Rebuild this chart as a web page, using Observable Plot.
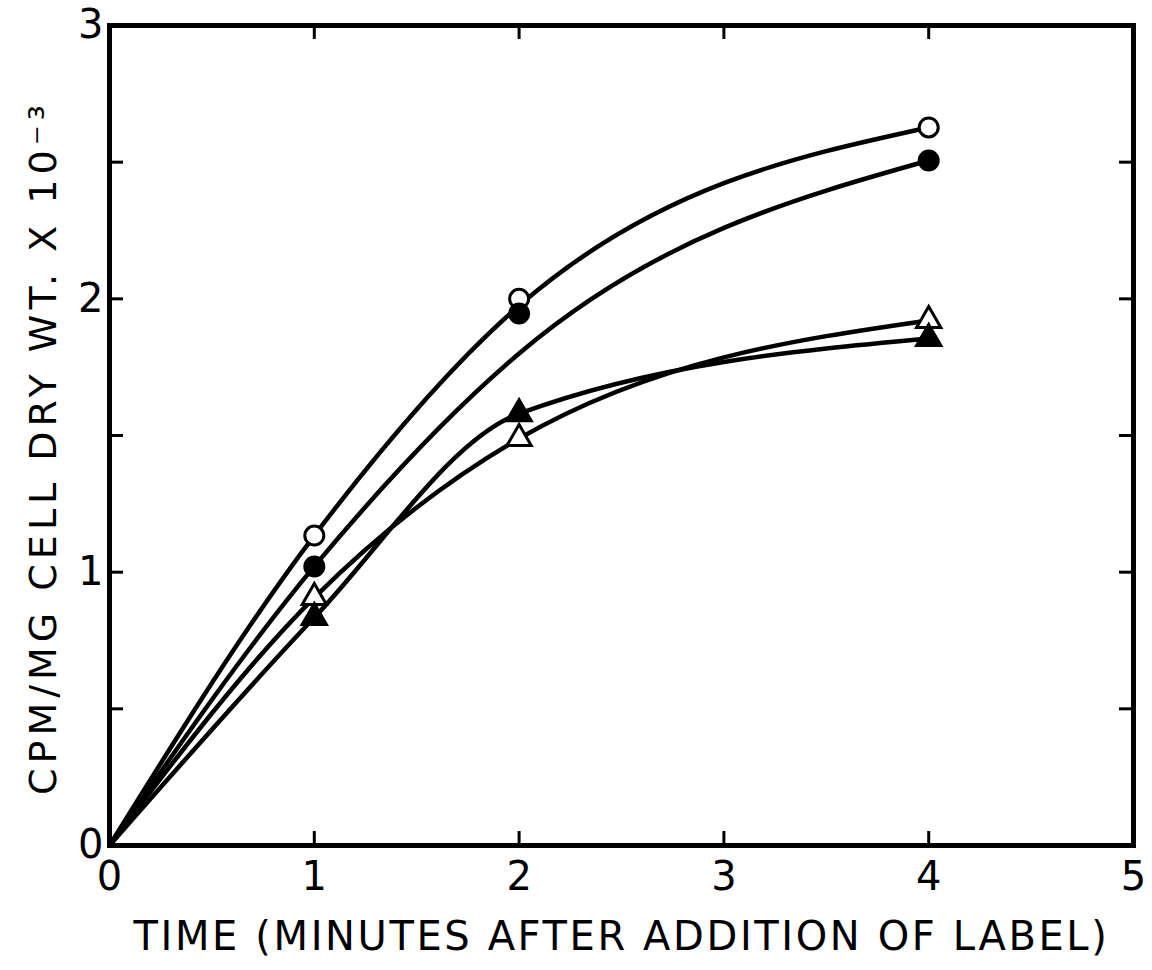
<!DOCTYPE html>
<html><head><meta charset="utf-8">
<script src="https://cdn.jsdelivr.net/npm/d3@7"></script>
<script src="https://cdn.jsdelivr.net/npm/@observablehq/plot@0.6"></script>
<style>body{margin:0;background:#fff}</style>
</head><body><div id="chart"></div>
<script>
// Time (minutes after addition of label)
const times = [0, 1, 2, 4];
// Measured points: CPM/mg cell dry wt. x 10^-3 (t = 0 has no marker)
const openCircle     = [0, 1.134, 2.000, 2.627];
const filledCircle   = [0, 1.021, 1.946, 2.506];
const openTriangle   = [0, 0.907, 1.489, 1.921];
const filledTriangle = [0, 0.834, 1.580, 1.855];
// Hand-fitted curves as drawn (at the same times)
const openCircleCurve     = [0, 1.134, 1.975, 2.627];
const filledCircleCurve   = [0, 1.021, 1.800, 2.506];
const openTriangleCurve   = [0, 0.907, 1.489, 1.921];
const filledTriangleCurve = [0, 0.834, 1.580, 1.855];

const xTickLabels = [0, 1, 2, 3, 4, 5];
const yTickLabels = [0, 1, 2, 3];
const xInnerTicks = [1, 2, 3, 4];
const yInnerTicks = [0.5, 1, 1.5, 2, 2.5];

const xTitle = "TIME (MINUTES AFTER ADDITION OF LABEL)";
const yTitle = "CPM/MG CELL DRY WT. X 10\u207B\u00B3";

const seriesDefs = [
  {name: "open circle", values: openCircle, curve: openCircleCurve, symbol: "circle", filled: false},
  {name: "filled circle", values: filledCircle, curve: filledCircleCurve, symbol: "circle", filled: true},
  {name: "open triangle", values: openTriangle, curve: openTriangleCurve, symbol: "triangle", filled: false},
  {name: "filled triangle", values: filledTriangle, curve: filledTriangleCurve, symbol: "triangle", filled: true}
];
const curveRows = seriesDefs.flatMap(s => times.map((t, i) => ({series: s.name, t, v: s.curve[i]})));
const markerRows = seriesDefs.flatMap(s => times.map((t, i) => ({series: s.name, t, v: s.values[i], symbol: s.symbol, filled: s.filled}))).filter(d => d.t > 0);

const W = 1152, H = 970, mL = 109, mR = 19, mT = 25, mB = 125;
const innerW = W - mL - mR, innerH = H - mT - mB;
const tickLen = 14;

const chart = Plot.plot({
  width: W, height: H,
  marginLeft: mL, marginRight: mR, marginTop: mT, marginBottom: mB,
  style: {fontFamily: "DejaVu Sans", fontSize: "40px", color: "black", background: "white"},
  x: {domain: [0, 5], ticks: xTickLabels, tickSize: 0, tickPadding: 16, tickFormat: d => String(d), label: null},
  y: {domain: [0, 3], ticks: yTickLabels, tickSize: 0, tickPadding: 6, tickFormat: d => String(d), label: null},
  marks: [
    Plot.tickX(xInnerTicks, {x: d => d, insetTop: innerH - tickLen, stroke: "black", strokeWidth: 3}),
    Plot.tickX(xInnerTicks, {x: d => d, insetBottom: innerH - tickLen, stroke: "black", strokeWidth: 3}),
    Plot.tickY(yInnerTicks, {y: d => d, insetRight: innerW - tickLen, stroke: "black", strokeWidth: 3}),
    Plot.tickY(yInnerTicks, {y: d => d, insetLeft: innerW - tickLen, stroke: "black", strokeWidth: 3}),
    Plot.line(curveRows, {x: "t", y: "v", z: "series", curve: "monotone-x", stroke: "black", strokeWidth: 4.5}),
    Plot.dot(markerRows.filter(d => d.symbol === "circle"), {x: "t", y: "v", symbol: "circle", r: 9.5, fill: d => d.filled ? "black" : "white", stroke: "black", strokeWidth: 3}),
    Plot.dot(markerRows.filter(d => d.symbol === "triangle"), {x: "t", y: "v", symbol: "triangle", r: 9, fill: d => d.filled ? "black" : "white", stroke: "black", strokeWidth: 3}),
    Plot.frame({stroke: "black", strokeWidth: 5}),
    Plot.text([xTitle], {text: d => d, frameAnchor: "bottom", dy: 104, fontSize: 40, fill: "black", className: "xtitle"}),
    Plot.text([yTitle], {text: d => d, frameAnchor: "left", textAnchor: "middle", rotate: -90, dx: -66, dy: 12, fontSize: 38, fill: "black", className: "ytitle"})
  ]
});
d3.select(chart).selectAll(".xtitle text").style("letter-spacing", "2.6px");
d3.select(chart).selectAll(".ytitle text").style("letter-spacing", "5px");
document.getElementById("chart").appendChild(chart);
</script>
</body></html>
